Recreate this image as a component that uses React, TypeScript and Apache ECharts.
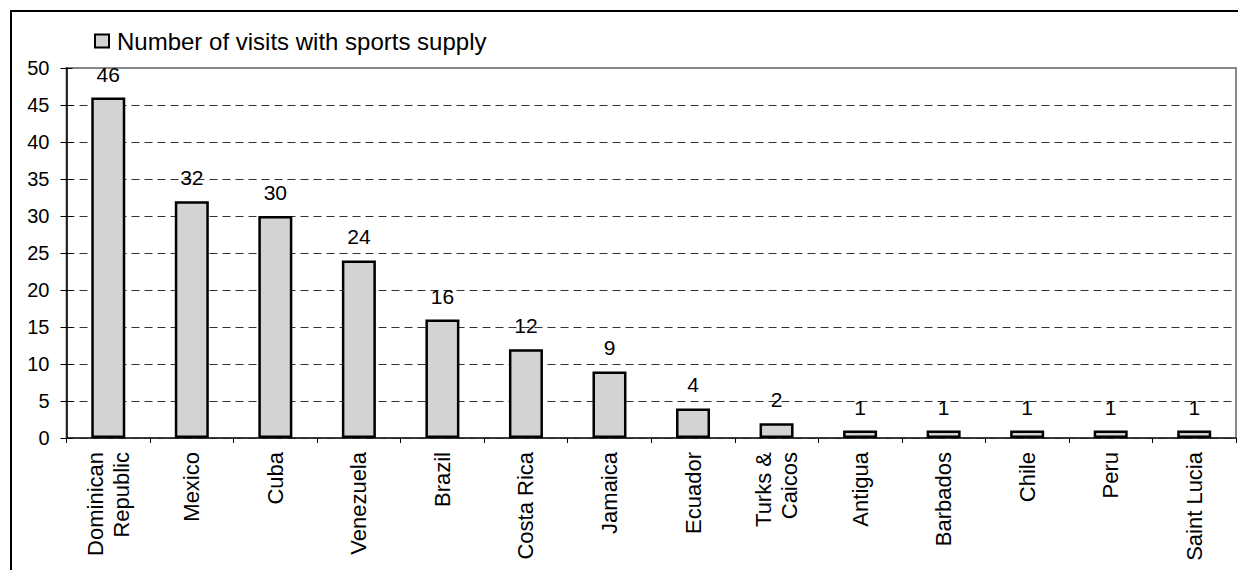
import React, { useEffect, useRef } from "react";
import * as echarts from "echarts";

const categories = [
  "Dominican\nRepublic",
  "Mexico",
  "Cuba",
  "Venezuela",
  "Brazil",
  "Costa Rica",
  "Jamaica",
  "Ecuador",
  "Turks &\nCaicos",
  "Antigua",
  "Barbados",
  "Chile",
  "Peru",
  "Saint Lucia",
];
const visits = [46, 32, 30, 24, 16, 12, 9, 4, 2, 1, 1, 1, 1, 1];
const seriesName = "Number of visits with sports supply";
const yMin = 0;
const yMax = 50;
const yInterval = 5;

const FONT = "'Liberation Sans', Arial, sans-serif";

export default function App() {
  const ref = useRef<HTMLDivElement>(null);

  useEffect(() => {
    if (!ref.current) return;
    const chart = echarts.init(ref.current, undefined, { renderer: "svg" });
    const splitColors: string[] = [];
    for (let v = yMin; v <= yMax; v += yInterval) {
      splitColors.push(v === yMax ? "#888888" : "#333333");
    }
    chart.setOption({
      animation: false,
      backgroundColor: "#ffffff",
      textStyle: { fontFamily: FONT },
      legend: {
        data: [seriesName],
        left: 94,
        top: 29,
        padding: 0,
        itemWidth: 14,
        itemHeight: 13,
        itemGap: 5,
        icon: "rect",
        textStyle: { fontFamily: FONT, fontSize: 24, color: "#000", padding: [0, 0, 0, 3] },
      },
      grid: {
        left: 66.5,
        right: 2,
        top: 68,
        bottom: 132,
        show: true,
        borderColor: "#888888",
        borderWidth: 2,
        backgroundColor: "transparent",
        containLabel: false,
      },
      xAxis: {
        type: "category",
        data: categories,
        boundaryGap: true,
        axisLine: { show: true, lineStyle: { color: "#222", width: 1.5 } },
        axisTick: { show: true, inside: false, length: 5, lineStyle: { color: "#000", width: 1 } },
        axisLabel: {
          interval: 0,
          rotate: 90,
          margin: 14,
          fontFamily: FONT,
          fontSize: 22,
          lineHeight: 26,
          color: "#000",
        },
        splitLine: { show: false },
      },
      yAxis: [
        {
          type: "value",
          min: yMin,
          max: yMax,
          interval: yInterval,
          axisLine: { show: true, lineStyle: { color: "#000", width: 1.5 } },
          axisTick: { show: true, inside: false, length: 6, lineStyle: { color: "#000", width: 1 } },
          axisLabel: { margin: 17, fontFamily: FONT, fontSize: 20, color: "#000" },
          splitLine: {
            show: true,
            lineStyle: { color: splitColors, type: [8, 5], width: 1 },
          },
        },
        {
          type: "value",
          min: yMin,
          max: yMax,
          interval: yInterval,
          position: "left",
          axisLine: { show: false },
          axisTick: { show: true, inside: true, length: 6, lineStyle: { color: "#000", width: 1 } },
          axisLabel: { show: false },
          splitLine: { show: false },
        },
      ],
      series: [
        {
          name: seriesName,
          type: "bar",
          data: visits,
          yAxisIndex: 0,
          barWidth: 34,
          itemStyle: { color: "#d3d3d3", borderColor: "#000", borderWidth: 2.5 },
          label: {
            show: true,
            position: "top",
            distance: 13,
            fontFamily: FONT,
            fontSize: 21,
            color: "#000",
          },
        },
      ],
      graphic: [
        {
          type: "rect",
          shape: { x: 11, y: 11, width: 1400, height: 800 },
          style: { fill: "none", stroke: "#000", lineWidth: 2 },
          silent: true,
          z: 100,
        },
      ],
    });
    return () => chart.dispose();
  }, []);

  return (
    <div
      ref={ref}
      style={{ position: "fixed", left: 0, top: 0, width: 1238, height: 570 }}
    />
  );
}
